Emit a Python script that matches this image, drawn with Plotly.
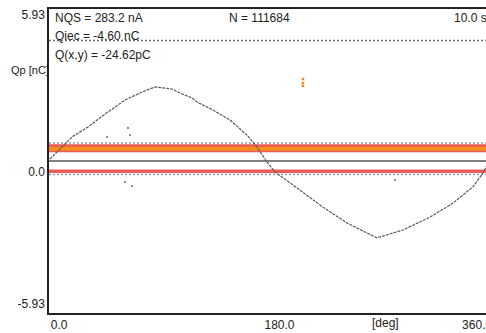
import plotly.graph_objects as go

# ---- data ----
# phase-resolved charge curve: phase [deg] and Qp [nC]
curve_deg = [0.5, 1.6, 18.2, 30.8, 44.2, 60.0, 73.4, 83.7, 97.1, 103.4, 112.9, 116.8,
             129.5, 142.9, 156.3, 164.2, 172.1, 178.4, 183.9, 198.2, 216.3, 235.3,
             258.9, 279.5, 300.8, 319.0, 334.7, 342.6, 347.0]
curve_qp = [0.08, 0.12, 0.94, 1.33, 1.83, 2.38, 2.69, 2.89, 2.81, 2.65, 2.46, 2.30,
            1.99, 1.60, 1.01, 0.55, -0.04, -0.43, -0.62, -1.13, -1.80, -2.42,
            -3.00, -2.69, -2.19, -1.64, -1.01, -0.47, -0.05]

# horizontal pulse bands (level in nC)
band_x = [0, 360]
top_noise_level = 4.70
upper_noise_level = 0.70
upper_red_level = 0.50
upper_orange_level = 0.48
lower_red_level = -0.40
lower_noise_level = -0.53

# isolated scattered pulses
scatter_deg = [62.4, 63.9, 45.8, 60.0, 65.5, 273.2]
scatter_qp = [1.29, 1.01, 0.94, -0.82, -0.98, -0.74]
spike_deg = [200.5, 200.5, 200.5]
spike_qp = [3.20, 3.04, 2.93]

# axis ticks
y_tickvals = [5.70, -0.43, -5.58]
y_ticktext = ["5.93", "0.0", "-5.93"]
x_tickvals = [8, 182, 338]
x_ticktext = ["0.0", "180.0", "360.0"]

FONT = "Liberation Sans, Arial, sans-serif"

fig = go.Figure()

def hline(level, color, width, dash="solid"):
    fig.add_trace(go.Scatter(x=band_x, y=[level, level], mode="lines",
                             line=dict(color=color, width=width, dash=dash),
                             hoverinfo="skip", showlegend=False))

hline(top_noise_level, "#6e6e6e", 1.5, "2px,2px")
hline(upper_noise_level, "#9a9a9a", 1.5, "2px,2px")
hline(upper_red_level, "#ec5a55", 8)
hline(upper_orange_level, "#f58d1e", 4)
hline(lower_red_level, "#ec5a5a", 3.5)
hline(lower_noise_level, "#9a9a9a", 1.5, "2px,2px")

fig.add_trace(go.Scatter(x=scatter_deg, y=scatter_qp, mode="markers",
                         marker=dict(color="#8a8a8a", size=2, symbol="square"),
                         hoverinfo="skip", showlegend=False))
fig.add_trace(go.Scatter(x=spike_deg, y=spike_qp, mode="markers",
                         marker=dict(color="#f08a30", size=2.5, symbol="square"),
                         hoverinfo="skip", showlegend=False))
fig.add_trace(go.Scatter(x=curve_deg, y=curve_qp, mode="lines",
                         line=dict(color="#5a5a5a", width=1.2, dash="3px,1px"),
                         hoverinfo="skip", showlegend=False))

fig.update_layout(
    width=486, height=333,
    margin=dict(l=49, r=0, t=9, b=20, autoexpand=False),
    paper_bgcolor="white", plot_bgcolor="white",
    font=dict(family=FONT, size=12, color="#222"),
    showlegend=False,
)
fig.update_xaxes(range=[0, 345], showgrid=False, zeroline=False, automargin=False,
                 showline=True, linecolor="#222", linewidth=1.5, mirror=True,
                 tickvals=x_tickvals, ticktext=x_ticktext, ticks="",
                 ticklabeloverflow="allow", tickfont=dict(size=12, color="#222"))
fig.update_yaxes(range=[-5.93, 5.93], showgrid=False, automargin=False,
                 zeroline=True, zerolinecolor="#808080", zerolinewidth=2,
                 showline=True, linecolor="#222", linewidth=1.5, mirror=False,
                 tickvals=y_tickvals, ticktext=y_ticktext, ticks="",
                 tickfont=dict(size=12, color="#222"))

def note(text, x, y, xref="x", yref="y", xanchor="left", size=12):
    fig.add_annotation(text=text, x=x, y=y, xref=xref, yref=yref,
                       xanchor=xanchor, yanchor="middle", showarrow=False,
                       font=dict(family=FONT, size=size, color="#222"))

note("NQS = 283.2 nA", 3.2, 5.58)
note("Qiec = -4.60 nC", 3.2, 4.88)
note("Q(x,y) = -24.62pC", 3.2, 4.14)
note("N = 111684", 140.5, 5.58)
note("10.0 s", 318.5, 5.58)
note("Qp [nC]", -0.092, 0.799, xref="paper", yref="paper", size=11)
note("[deg]", 265.3, -0.033, yref="paper", xanchor="center")

fig.write_html("out.html", config={"displayModeBar": False},
               post_script="document.body.style.margin='0';document.body.style.overflow='hidden';")
